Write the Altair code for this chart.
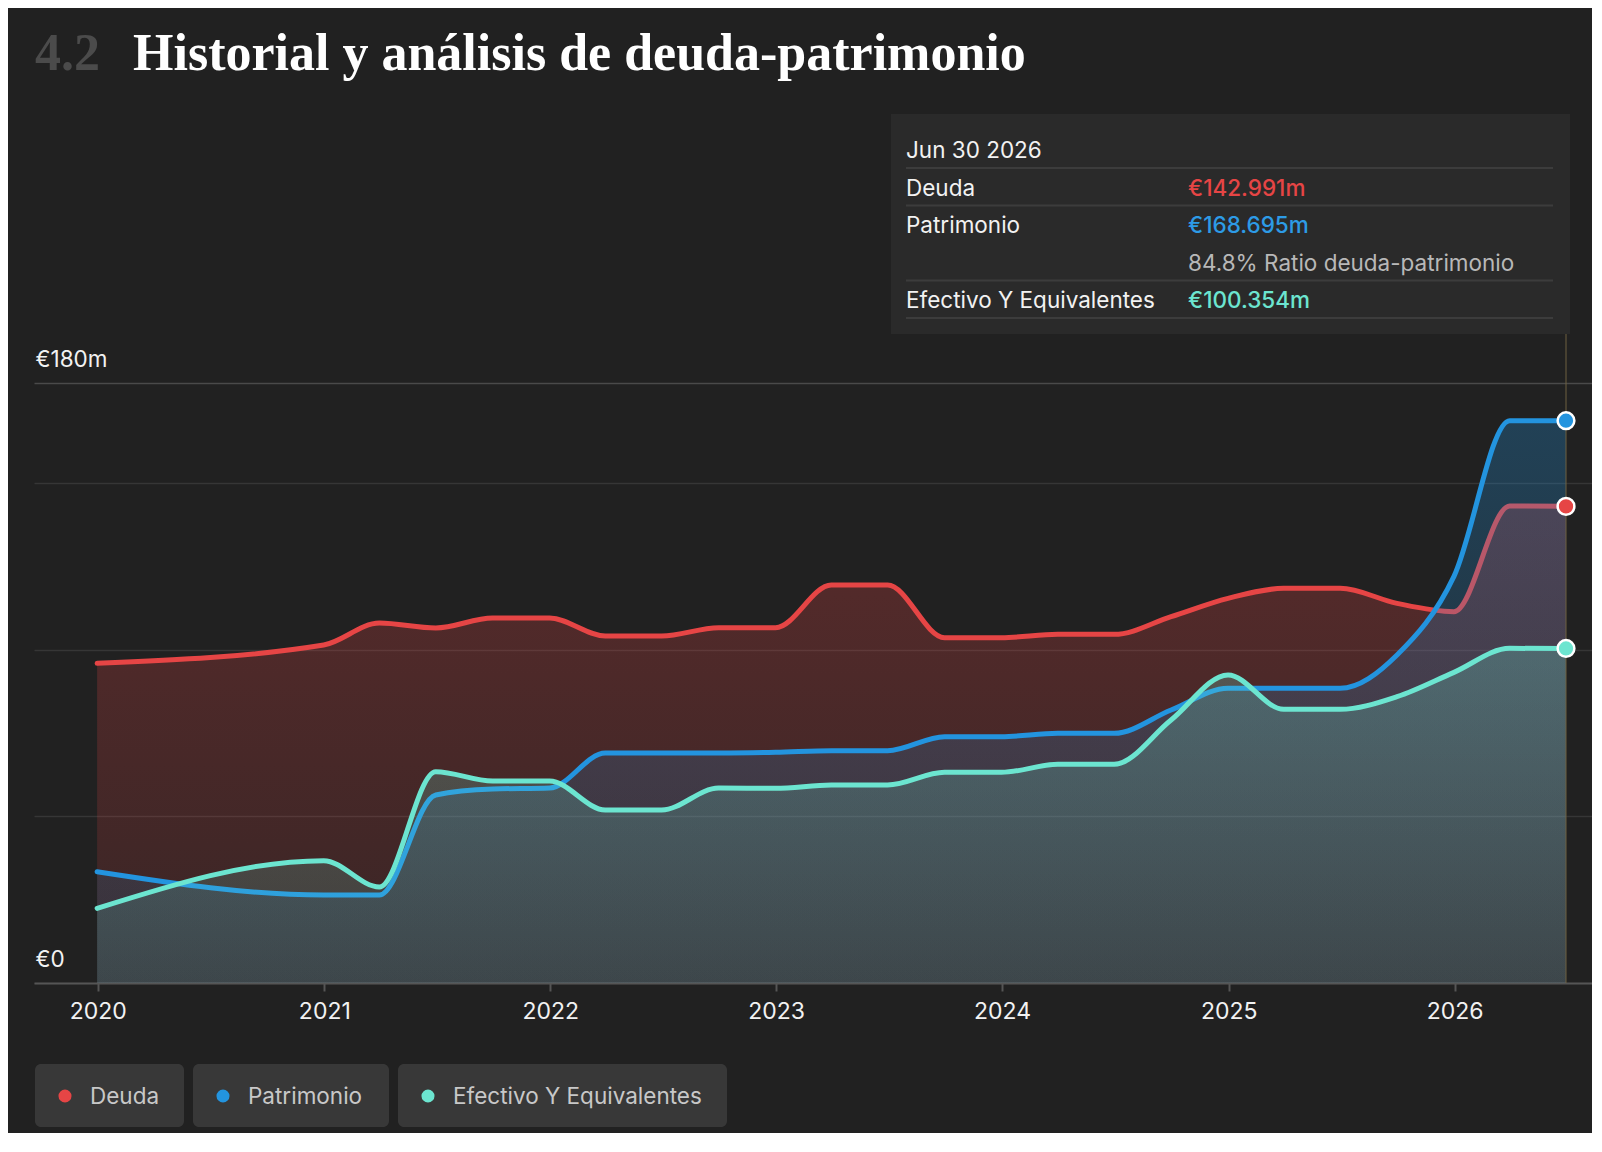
import altair as alt
import pandas as pd

# quarter-end balance sheet figures, € millions
DATES = [
    "2019-12-31", "2020-12-31", "2021-03-31", "2021-06-30", "2021-09-30",
    "2021-12-31", "2022-03-31", "2022-06-30", "2022-09-30", "2022-12-31",
    "2023-03-31", "2023-06-30", "2023-09-30", "2023-12-31", "2024-03-31",
    "2024-06-30", "2024-09-30", "2024-12-31", "2025-03-31", "2025-06-30",
    "2025-09-30", "2025-12-31", "2026-03-31", "2026-06-30",
]
DEUDA = [
    95.9, 101.4, 108.0, 106.5, 109.5, 109.5, 104.1, 104.1, 106.6, 106.6,
    119.4, 119.4, 103.6, 103.6, 104.6, 104.6, 109.9, 115.4, 118.4, 118.4,
    113.9, 111.4, 143.1, 142.991,
]
PATRIMONIO = [
    33.4, 26.4, 26.4, 56.4, 58.2, 58.5, 69.0, 69.0, 69.0, 69.2,
    69.7, 69.7, 73.9, 73.9, 74.9, 74.9, 81.9, 88.4, 88.4, 88.4,
    98.4, 122.0, 168.7, 168.695,
]
EFECTIVO = [
    22.4, 36.7, 28.8, 63.4, 60.6, 60.6, 51.9, 51.9, 58.5, 58.4,
    59.4, 59.4, 63.2, 63.2, 65.6, 65.6, 78.9, 92.4, 82.1, 82.1,
    85.9, 93.2, 100.4, 100.354,
]

SERIES = ["Deuda", "Patrimonio", "Efectivo Y Equivalentes"]
COLORS = ["#E64545", "#2394DF", "#6CE5D0"]
Y_TICKS = [0, 50, 100, 150, 180]
YEARS = [2020, 2021, 2022, 2023, 2024, 2025, 2026]

TITLE_NUM = "4.2"
TITLE = "Historial y análisis de deuda-patrimonio"
RATIO_TXT = "Ratio deuda-patrimonio"

# layout
W, H = 1558, 869
PX_PER_M = 600 / 180
Y_MAX = H / PX_PER_M
BG = "#212121"
SANS = "Inter"
SERIF = "Liberation Serif"


def rgba(hex_color, a):
    h = hex_color.lstrip("#")
    r, g, b = int(h[0:2], 16), int(h[2:4], 16), int(h[4:6], 16)
    return f"rgba({r},{g},{b},{a})"


wide = pd.DataFrame({"fecha": pd.to_datetime(DATES), "Deuda": DEUDA,
                     "Patrimonio": PATRIMONIO, "Efectivo Y Equivalentes": EFECTIVO})
df = wide.melt(id_vars="fecha", var_name="serie", value_name="valor")
last = df[df["fecha"] == df["fecha"].max()]

x_enc = alt.X(
    "fecha:T",
    title=None,
    scale=alt.Scale(domain=[alt.DateTime(year=2019, month=9, date=20),
                            alt.DateTime(year=2026, month=8, date=11)]),
    axis=alt.Axis(
        values=[alt.DateTime(year=y, month=1, date=1) for y in YEARS],
        format="%Y", grid=False, labelFlush=False, labelOverlap=False,
        domainColor="#555555", domainWidth=2,
        tickColor="#555555", tickSize=8, tickWidth=2,
        labelColor="#f2f2f2", labelFont=SANS, labelFontSize=23, labelPadding=9,
    ),
)
y_enc = alt.Y(
    "valor:Q",
    title=None,
    scale=alt.Scale(domain=[0, Y_MAX], nice=False, zero=True),
    axis=alt.Axis(
        values=Y_TICKS, domain=False, ticks=False,
        labelExpr="datum.value == 180 ? '€180m' : (datum.value == 0 ? '€0' : '')",
        labelAlign="left", labelBaseline="bottom", labelOffset=-12, labelPadding=-1,
        labelColor="#f2f2f2", labelFont=SANS, labelFontSize=22.5,
        gridColor={"condition": {"test": "datum.value === 180", "value": "#4a4a4a"},
                   "value": "#363636"},
        gridWidth=1.5,
    ),
)

layers = []
alphas = {"Deuda": (0.28, 0.12), "Patrimonio": (0.28, 0.10),
          "Efectivo Y Equivalentes": (0.25, 0.12)}
for s, c in zip(SERIES, COLORS):
    top, bot = alphas[s]
    base = alt.Chart(df).transform_filter(alt.datum.serie == s)
    area = base.mark_area(
        interpolate="monotone",
        color=alt.Gradient(
            gradient="linear",
            stops=[alt.GradientStop(color=rgba(c, bot), offset=0),
                   alt.GradientStop(color=rgba(c, top), offset=1)],
            x1=1, x2=1, y1=1, y2=0,
        ),
    ).encode(x=x_enc, y=y_enc)
    line = base.mark_line(interpolate="monotone", color=c, strokeWidth=5,
                          strokeCap="round").encode(x=x_enc, y=y_enc)
    layers += [area, line]

cursor = alt.Chart(last.head(1)).mark_rule(color="#6e6040", strokeWidth=1).encode(x=x_enc)

ends = alt.Chart(last).mark_circle(size=280, stroke="white", strokeWidth=2.5, opacity=1).encode(
    x=x_enc, y=y_enc,
    fill=alt.Fill("serie:N", scale=alt.Scale(domain=SERIES, range=COLORS), legend=None),
)

# hover card
vals = dict(zip(last["serie"], last["valor"]))
fecha_txt = df["fecha"].max().strftime("%b %d %Y")
ratio = vals["Deuda"] / vals["Patrimonio"] * 100
tip = pd.DataFrame({
    "label": [fecha_txt, "Deuda", "Patrimonio", "", "Efectivo Y Equivalentes"],
    "value": ["", f"€{vals['Deuda']:.3f}m", f"€{vals['Patrimonio']:.3f}m",
              "", f"€{vals['Efectivo Y Equivalentes']:.3f}m"],
    "note": ["", "", "", f"{ratio:.1f}% {RATIO_TXT}", ""],
    "color": ["#f2f2f2", COLORS[0], "#2D9BE6", "#b8b8b8", COLORS[2]],
    "sep": [True, True, False, True, True],
})
tip["ty"] = [37 + 37.5 * i for i in range(len(tip))]
tip["sy"] = [54 + 37.5 * i for i in range(len(tip))]

card = alt.Chart(tip.head(1)).mark_rect(color="#2a2a2a").encode(
    x=alt.value(857), x2=alt.value(1536), y=alt.value(0), y2=alt.value(220))
seps = alt.Chart(tip[tip["sep"]]).mark_rule(color="#3c3c3c", strokeWidth=2).encode(
    x=alt.value(872), x2=alt.value(1519), y=alt.Y("sy:Q", scale=None))
tip_lab = alt.Chart(tip).mark_text(align="left", baseline="middle", font=SANS,
                                   fontSize=22.5, color="#f2f2f2").encode(
    x=alt.value(872), y=alt.Y("ty:Q", scale=None), text="label:N")
tip_val = alt.Chart(tip).mark_text(align="left", baseline="middle", font=SANS,
                                   fontSize=22.5, fontWeight=500).encode(
    x=alt.value(1154), y=alt.Y("ty:Q", scale=None), text="value:N",
    color=alt.Color("color:N", scale=None))
tip_note = alt.Chart(tip).mark_text(align="left", baseline="middle", font=SANS,
                                    fontSize=22.5, color="#b8b8b8").encode(
    x=alt.value(1154), y=alt.Y("ty:Q", scale=None), text="note:N")

# legend chips
text_w = {"Deuda": 70, "Patrimonio": 117, "Efectivo Y Equivalentes": 250}
rows, x0 = [], 1
for s, c in zip(SERIES, COLORS):
    w = 55 + text_w[s] + 24
    rows.append({"serie": s, "color": c, "bx0": x0, "bx1": x0 + w,
                 "dx": x0 + 30, "tx": x0 + 55})
    x0 += w + 9
leg = pd.DataFrame(rows)
chips = alt.Chart(leg).mark_rect(color="#383838", cornerRadius=6).encode(
    x=alt.X("bx0:Q", scale=None), x2="bx1:Q", y=alt.value(950), y2=alt.value(1013))
dots = alt.Chart(leg).mark_circle(size=170, opacity=1).encode(
    x=alt.X("dx:Q", scale=None), y=alt.value(982), color=alt.Color("color:N", scale=None))
leg_txt = alt.Chart(leg).mark_text(align="left", baseline="middle", font=SANS,
                                   fontSize=22.5, color="#c8c8c8").encode(
    x=alt.X("tx:Q", scale=None), y=alt.value(983), text="serie:N")

# heading
t_num = alt.Chart(pd.DataFrame({"t": [TITLE_NUM]})).mark_text(
    align="left", baseline="alphabetic", font=SERIF, fontSize=52, fontWeight="bold",
    color="#4b4b4b").encode(x=alt.value(1), y=alt.value(-44), text="t:N")
t_main = alt.Chart(pd.DataFrame({"t": [TITLE]})).mark_text(
    align="left", baseline="alphabetic", font=SERIF, fontSize=52, fontWeight="bold",
    color="#ffffff").encode(x=alt.value(99), y=alt.value(-44), text="t:N")

chart = alt.layer(
    *layers, cursor, ends, card, seps, tip_lab, tip_val, tip_note,
    chips, dots, leg_txt, t_num, t_main,
).properties(
    width=W, height=H,
    autosize=alt.AutoSizeParams(type="none"),
    padding={"left": 26, "top": 106, "right": 0, "bottom": 150},
    background=BG,
).configure_view(stroke=None)

chart.save("out.html", embed_options={"renderer": "svg", "actions": False})
